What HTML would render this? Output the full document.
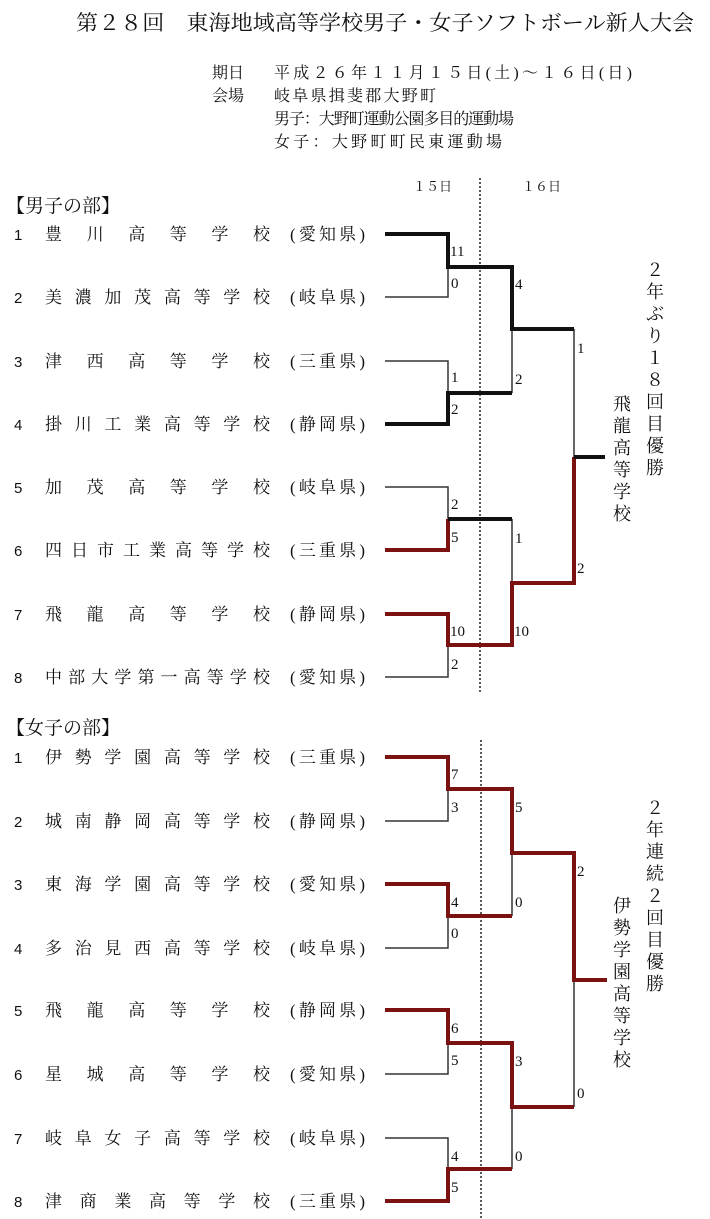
<!DOCTYPE html>
<html><head><meta charset="utf-8"><style>
html,body{margin:0;padding:0;background:#fff;}
svg{display:block;}
text{font-family:"Liberation Serif","Noto Serif CJK SC","Noto Sans CJK JP",serif;fill:#111;}
.n{font-size:15px;font-family:"Liberation Sans","Noto Sans CJK JP",sans-serif;}
.t{font-size:17px;}
.s{font-size:15px;font-family:"Liberation Sans",sans-serif;fill:#333;}
.k{stroke:#111;stroke-width:4;fill:none;}
.r{stroke:#7a1212;stroke-width:4;fill:none;}
.h{stroke:#333;stroke-width:1.5;fill:none;}
</style></head><body>
<svg width="710" height="1219" viewBox="0 0 710 1219" xmlns="http://www.w3.org/2000/svg">
<text x="76" y="30" style="font-size:21px" textLength="618" lengthAdjust="spacingAndGlyphs">第２８回　東海地域高等学校男子・女子ソフトボール新人大会</text>
<g style="font-size:16px">
<text x="212" y="78">期日</text><text x="274" y="78" textLength="358" lengthAdjust="spacing">平成２６年１１月１５日(土)～１６日(日)</text>
<text x="212" y="101">会場</text><text x="274" y="101" textLength="162" lengthAdjust="spacing">岐阜県揖斐郡大野町</text>
<text x="274" y="124" textLength="240" lengthAdjust="spacing">男子：大野町運動公園多目的運動場</text>
<text x="274" y="147" textLength="228" lengthAdjust="spacing">女子：大野町町民東運動場</text>
</g>
<text x="413" y="191" style="font-size:13px">１５日</text>
<text x="522" y="191" style="font-size:13px">１６日</text>
<text x="6" y="212" style="font-size:19px" textLength="114">【男子の部】</text>
<text x="6" y="734" style="font-size:19px" textLength="114">【女子の部】</text>
<line x1="480" y1="178" x2="480" y2="692" stroke="#222" stroke-width="1.5" stroke-dasharray="2,2"/>
<line x1="481" y1="740" x2="481" y2="1219" stroke="#222" stroke-width="1.5" stroke-dasharray="2,2"/>

<g>
<text class="n" x="14" y="240">1</text><text class="t" x="45" y="240" textLength="225" lengthAdjust="spacing">豊川高等学校</text><text class="t" x="290" y="240" textLength="75" lengthAdjust="spacing">(愛知県)</text>
<text class="n" x="14" y="303">2</text><text class="t" x="45" y="303" textLength="225" lengthAdjust="spacing">美濃加茂高等学校</text><text class="t" x="290" y="303" textLength="75" lengthAdjust="spacing">(岐阜県)</text>
<text class="n" x="14" y="367">3</text><text class="t" x="45" y="367" textLength="225" lengthAdjust="spacing">津西高等学校</text><text class="t" x="290" y="367" textLength="75" lengthAdjust="spacing">(三重県)</text>
<text class="n" x="14" y="430">4</text><text class="t" x="45" y="430" textLength="225" lengthAdjust="spacing">掛川工業高等学校</text><text class="t" x="290" y="430" textLength="75" lengthAdjust="spacing">(静岡県)</text>
<text class="n" x="14" y="493">5</text><text class="t" x="45" y="493" textLength="225" lengthAdjust="spacing">加茂高等学校</text><text class="t" x="290" y="493" textLength="75" lengthAdjust="spacing">(岐阜県)</text>
<text class="n" x="14" y="556">6</text><text class="t" x="45" y="556" textLength="225" lengthAdjust="spacing">四日市工業高等学校</text><text class="t" x="290" y="556" textLength="75" lengthAdjust="spacing">(三重県)</text>
<text class="n" x="14" y="620">7</text><text class="t" x="45" y="620" textLength="225" lengthAdjust="spacing">飛龍高等学校</text><text class="t" x="290" y="620" textLength="75" lengthAdjust="spacing">(静岡県)</text>
<text class="n" x="14" y="683">8</text><text class="t" x="45" y="683" textLength="225" lengthAdjust="spacing">中部大学第一高等学校</text><text class="t" x="290" y="683" textLength="75" lengthAdjust="spacing">(愛知県)</text>
</g>
<g>
<text class="n" x="14" y="763">1</text><text class="t" x="45" y="763" textLength="225" lengthAdjust="spacing">伊勢学園高等学校</text><text class="t" x="290" y="763" textLength="75" lengthAdjust="spacing">(三重県)</text>
<text class="n" x="14" y="827">2</text><text class="t" x="45" y="827" textLength="225" lengthAdjust="spacing">城南静岡高等学校</text><text class="t" x="290" y="827" textLength="75" lengthAdjust="spacing">(静岡県)</text>
<text class="n" x="14" y="890">3</text><text class="t" x="45" y="890" textLength="225" lengthAdjust="spacing">東海学園高等学校</text><text class="t" x="290" y="890" textLength="75" lengthAdjust="spacing">(愛知県)</text>
<text class="n" x="14" y="954">4</text><text class="t" x="45" y="954" textLength="225" lengthAdjust="spacing">多治見西高等学校</text><text class="t" x="290" y="954" textLength="75" lengthAdjust="spacing">(岐阜県)</text>
<text class="n" x="14" y="1016">5</text><text class="t" x="45" y="1016" textLength="225" lengthAdjust="spacing">飛龍高等学校</text><text class="t" x="290" y="1016" textLength="75" lengthAdjust="spacing">(静岡県)</text>
<text class="n" x="14" y="1080">6</text><text class="t" x="45" y="1080" textLength="225" lengthAdjust="spacing">星城高等学校</text><text class="t" x="290" y="1080" textLength="75" lengthAdjust="spacing">(愛知県)</text>
<text class="n" x="14" y="1144">7</text><text class="t" x="45" y="1144" textLength="225" lengthAdjust="spacing">岐阜女子高等学校</text><text class="t" x="290" y="1144" textLength="75" lengthAdjust="spacing">(岐阜県)</text>
<text class="n" x="14" y="1207">8</text><text class="t" x="45" y="1207" textLength="225" lengthAdjust="spacing">津商業高等学校</text><text class="t" x="290" y="1207" textLength="75" lengthAdjust="spacing">(三重県)</text>
</g>

<path class="h" d="M385 297H448V267 M385 361H448V393 M385 487H448V519 M385 677H448V645 M512 393V329 M512 519V583 M574 329V457"/>
<path class="k" d="M385 234H448V267H512V329H574"/>
<path class="k" d="M385 424H448V393H512"/>
<path class="r" d="M385 550H448V519"/>
<path class="k" d="M448 519H512"/>
<path class="r" d="M385 614H448V645H512V583H574V457"/>
<path class="k" d="M574 457H605"/>

<path class="h" d="M385 821H448V789 M385 948H448V916 M385 1074H448V1043 M385 1138H448V1169 M512 916V853 M512 1169V1107 M574 1107V980"/>
<path class="r" d="M385 757H448V789H512V853H574V980H607"/>
<path class="r" d="M385 884H448V916H512"/>
<path class="r" d="M385 1010H448V1043H512V1107H574"/>
<path class="r" d="M385 1201H448V1169H512"/>

<g class="s">
<text x="450" y="256">11</text><text x="451" y="288">0</text>
<text x="451" y="382">1</text><text x="451" y="414">2</text>
<text x="451" y="509">2</text><text x="451" y="542">5</text>
<text x="450" y="636">10</text><text x="451" y="669">2</text>
<text x="515" y="289">4</text><text x="515" y="384">2</text>
<text x="515" y="543">1</text><text x="514" y="636">10</text>
<text x="577" y="353">1</text><text x="577" y="573">2</text>
<text x="451" y="779">7</text><text x="451" y="812">3</text>
<text x="451" y="907">4</text><text x="451" y="938">0</text>
<text x="451" y="1033">6</text><text x="451" y="1065">5</text>
<text x="451" y="1161">4</text><text x="451" y="1192">5</text>
<text x="515" y="812">5</text><text x="515" y="907">0</text>
<text x="515" y="1066">3</text><text x="515" y="1161">0</text>
<text x="577" y="876">2</text><text x="577" y="1098">0</text>
</g>

<g style="font-size:18px" text-anchor="middle">
<text x="655" y="276">２</text><text x="655" y="298">年</text><text x="655" y="320">ぶ</text><text x="655" y="342">り</text><text x="655" y="364">１</text><text x="655" y="386">８</text><text x="655" y="408">回</text><text x="655" y="430">目</text><text x="655" y="452">優</text><text x="655" y="474">勝</text>
<text x="622" y="410">飛</text><text x="622" y="432">龍</text><text x="622" y="454">高</text><text x="622" y="476">等</text><text x="622" y="498">学</text><text x="622" y="520">校</text>
<text x="655" y="814">２</text><text x="655" y="836">年</text><text x="655" y="858">連</text><text x="655" y="880">続</text><text x="655" y="902">２</text><text x="655" y="924">回</text><text x="655" y="946">目</text><text x="655" y="968">優</text><text x="655" y="990">勝</text>
<text x="622" y="912">伊</text><text x="622" y="934">勢</text><text x="622" y="956">学</text><text x="622" y="978">園</text><text x="622" y="1000">高</text><text x="622" y="1022">等</text><text x="622" y="1044">学</text><text x="622" y="1066">校</text>
</g>
</svg>
</body></html>
